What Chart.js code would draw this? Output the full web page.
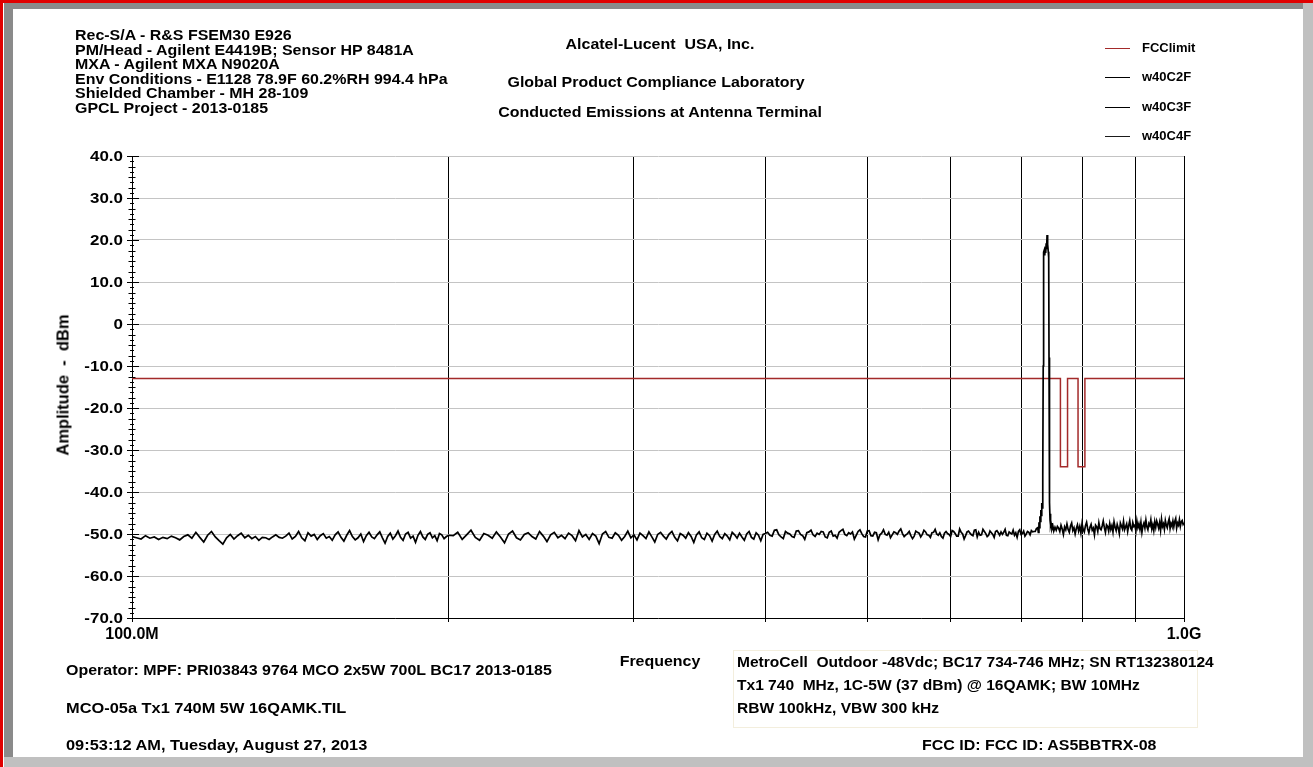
<!DOCTYPE html>
<html>
<head>
<meta charset="utf-8">
<script src="https://cdn.jsdelivr.net/npm/chart.js@4.4.1/dist/chart.umd.min.js"></script>
<style>
  body { margin: 0; background: #fff; }
  #page { position: relative; width: 1313px; height: 767px; overflow: hidden; background: #fff;
          font-family: 'Liberation Sans', Arial, sans-serif; font-weight: bold; color: #000; }
  .bar { position: absolute; }
  .txt { position: absolute; white-space: pre; font-size: 14px; line-height: 14px;
         transform: scaleX(1.14); transform-origin: left top; }
  .mid { width: 400px; text-align: center; transform-origin: center top; }
  #chart { position: absolute; left: 0; top: 0; }
  #legend { position: absolute; left: 1105px; top: 40px; }
  .lg { position: relative; height: 29.3px; }
  .lg span.ln { position: absolute; left: 0; top: 8px; width: 25px; height: 0; border-top: 1.5px solid #000; }
  .lg span.lb { position: absolute; left: 37px; top: 1px; font-size: 13px; line-height: 14px; white-space: pre; }
  #infoBox { position: absolute; left: 733px; top: 650px; width: 463px; height: 76px; border: 1px solid #f3eedd; }
</style>
</head>
<body>
<div id="page">
  <div class="bar" style="left:0;top:0;width:1313px;height:3px;background:#e00000"></div>
  <div class="bar" style="left:0;top:0;width:3px;height:767px;background:#e00000"></div>
  <div class="bar" style="left:4px;top:3px;width:1299px;height:6px;background:#8a8a8a"></div>
  <div class="bar" style="left:4px;top:3px;width:9px;height:754px;background:#8a8a8a"></div>
  <div class="bar" style="left:1303px;top:3px;width:10px;height:764px;background:#c0c0c0"></div>
  <div class="bar" style="left:4px;top:757px;width:1309px;height:10px;background:#c0c0c0"></div>

  <canvas id="chart" width="1313" height="767"></canvas>

  <div class="txt" style="left:75px;top:28px;line-height:14.5px">Rec-S/A - R&amp;S FSEM30 E926
PM/Head - Agilent E4419B; Sensor HP 8481A
MXA - Agilent MXA N9020A
Env Conditions - E1128 78.9F 60.2%RH 994.4 hPa
Shielded Chamber - MH 28-109
GPCL Project - 2013-0185</div>

  <div class="txt mid" style="left:460px;top:37px">Alcatel-Lucent  USA, Inc.</div>
  <div class="txt mid" style="left:456px;top:75px">Global Product Compliance Laboratory</div>
  <div class="txt mid" style="left:460px;top:105px">Conducted Emissions at Antenna Terminal</div>

  <div id="legend"></div>

  <div class="txt" style="left:63px;top:385px;font-size:16.5px;line-height:17px;transform:translate(-50%,-50%) rotate(-90deg);transform-origin:center">Amplitude  -  dBm</div>

  <div class="txt mid" style="left:460px;top:654px">Frequency</div>

  <div class="txt" style="left:66px;top:663px">Operator: MPF: PRI03843 9764 MCO 2x5W 700L BC17 2013-0185</div>
  <div class="txt" style="left:66px;top:701px;transform:scaleX(1.17)">MCO-05a Tx1 740M 5W 16QAMK.TIL</div>
  <div class="txt" style="left:66px;top:738px;transform:scaleX(1.17)">09:53:12 AM, Tuesday, August 27, 2013</div>

  <div id="infoBox"></div>
  <div class="txt" style="left:737px;top:655px;transform:scaleX(1.11)">MetroCell  Outdoor -48Vdc; BC17 734-746 MHz; SN RT132380124</div>
  <div class="txt" style="left:737px;top:678px;transform:scaleX(1.11)">Tx1 740  MHz, 1C-5W (37 dBm) @ 16QAMK; BW 10MHz</div>
  <div class="txt" style="left:737px;top:701px;transform:scaleX(1.11)">RBW 100kHz, VBW 300 kHz</div>
  <div class="txt" style="left:922px;top:738px">FCC ID: FCC ID: AS5BBTRX-08</div>
</div>

<script>
// axis ticks
const xTicks = [100, 200, 300, 400, 500, 600, 700, 800, 900, 1000];
const xTickLabels = ['100.0M', '', '', '', '', '', '', '', '', '1.0G'];
const yTicks = [40, 30, 20, 10, 0, -10, -20, -30, -40, -50, -60, -70];
const yTickLabels = ['40.0', '30.0', '20.0', '10.0', '0', '-10.0', '-20.0', '-30.0', '-40.0', '-50.0', '-60.0', '-70.0'];
const yMinorStep = 1.25;

// FCC limit (MHz, dBm)
const limitFreq = [100, 763, 763, 775, 775, 793, 793, 805, 805, 1000];
const limitAmp = [-13, -13, -34, -34, -13, -13, -34, -34, -13, -13];

// measured sweep w40C2F (MHz, dBm)
const sweepFreq = [
    100, 101, 102, 103, 104, 105, 106, 107, 108, 109, 110, 111, 112, 113, 114, 115, 116, 117, 118, 119,
    120, 121, 122, 123, 124, 125, 126, 127, 128, 129, 130, 131, 132, 133, 134, 135, 136, 137, 138, 139,
    140, 141, 142, 143, 144, 145, 146, 147, 148, 149, 150, 151, 152, 153, 154, 155, 156, 157, 158, 159,
    160, 161, 162, 163, 164, 165, 166, 167, 168, 169, 170, 171, 172, 173, 174, 175, 176, 177, 178, 179,
    180, 181, 182, 183, 184, 185, 186, 187, 188, 189, 190, 191, 192, 193, 194, 195, 196, 197, 198, 199, 200,
    202, 204, 206, 208, 210, 212, 214, 216, 218, 220, 222, 224, 226, 228, 230, 232, 234, 236, 238, 240,
    242, 244, 246, 248, 250, 252, 254, 256, 258, 260, 262, 264, 266, 268, 270, 272, 274, 276, 278, 280,
    282, 284, 286, 288, 290, 292, 294, 296, 298, 300, 302, 304, 306, 308, 310, 312, 314, 316, 318, 320,
    322, 324, 326, 328, 330, 332, 334, 336, 338, 340, 342, 344, 346, 348, 350, 352, 354, 356, 358, 360,
    362, 364, 366, 368, 370, 372, 374, 376, 378, 380, 382, 384, 386, 388, 390, 392, 394, 396, 398, 400,
    402, 404, 406, 408, 410, 412, 414, 416, 418, 420, 422, 424, 426, 428, 430, 432, 434, 436, 438, 440,
    442, 444, 446, 448, 450, 452, 454, 456, 458, 460, 462, 464, 466, 468, 470, 472, 474, 476, 478, 480,
    482, 484, 486, 488, 490, 492, 494, 496, 498, 500, 502, 504, 506, 508, 510, 512, 514, 516, 518, 520,
    522, 524, 526, 528, 530, 532, 534, 536, 538, 540, 542, 544, 546, 548, 550, 552, 554, 556, 558, 560,
    562, 564, 566, 568, 570, 572, 574, 576, 578, 580, 582, 584, 586, 588, 590, 592, 594, 596, 598, 600,
    602, 604, 606, 608, 610, 612, 614, 616, 618, 620, 622, 624, 626, 628, 630, 632, 634, 636, 638, 640,
    642, 644, 646, 648, 650, 652, 654, 656, 658, 660, 662, 664, 666, 668, 670, 672, 674, 676, 678, 680,
    682, 684, 686, 688, 690, 692, 694, 696, 698, 700, 702, 704, 706, 708, 710, 712, 714, 716, 718, 720,
    722, 724, 726, 727, 728, 728.7, 729.5, 730.2, 731, 731.7, 732.5, 733.2, 733.8, 734.4, 734.8, 735.2, 735.7, 736.5, 737.3, 738,
    738.8, 739.6, 740.3, 741, 741.6, 742.3, 743, 743.7, 744.2, 744.7, 745.3, 745.9, 746.5, 747, 747.5, 749, 750.5, 752, 754, 756, 758,
    760, 762, 764, 766, 768, 770, 772, 774, 776, 778, 780, 782, 784, 786, 788, 790, 792, 794, 796, 798,
    800, 802, 804, 806, 808, 810, 812, 814, 816, 818, 820, 822, 824, 826, 828, 830, 832, 834, 836, 838,
    840, 842, 844, 846, 848, 850, 852, 854, 856, 858, 860, 862, 864, 866, 868, 870, 872, 874, 876, 878,
    880, 882, 884, 886, 888, 890, 892, 894, 896, 898, 900, 902, 904, 906, 908, 910, 912, 914, 916, 918,
    920, 922, 924, 926, 928, 930, 932, 934, 936, 938, 940, 942, 944, 946, 948, 950, 952, 954, 956, 958,
    960, 962, 964, 966, 968, 970, 972, 974, 976, 978, 980, 982, 984, 986, 988, 990, 992, 994, 996, 998, 1000
];
const sweepAmp = [
    -50.6, -50.9, -51.2, -50.4, -51.0, -50.7, -51.3, -50.8, -51.1, -50.5, -50.9, -51.4, -50.6, -50.2, -51.0, -49.6, -50.8, -51.9, -50.3, -49.4,
    -50.7, -51.6, -52.4, -50.9, -50.1, -51.2, -50.4, -49.8, -50.9, -50.3, -51.1, -50.6, -51.5, -50.8, -50.9, -51.3, -50.7, -50.2, -50.8, -51.0,
    -50.5, -49.8, -51.2, -50.6, -49.4, -50.9, -51.6, -49.7, -50.5, -50.1, -51.3, -50.4, -49.9, -51.0, -50.6, -51.5, -50.2, -49.5, -50.8, -51.7,
    -50.3, -49.2, -50.6, -51.4, -50.9, -50.0, -51.8, -50.4, -49.6, -50.7, -51.1, -50.2, -49.5, -50.9, -52.2, -50.6, -49.8, -51.2, -50.4, -49.3,
    -50.8, -51.5, -50.0, -49.6, -51.0, -50.5, -52.0, -50.3, -49.4, -50.7, -51.3, -50.1, -49.7, -50.9, -50.4, -51.6, -49.9, -50.2, -51.1, -50.6, -50.3,
    -50.4, -49.6, -51.3, -50.2, -49.1, -50.8, -51.5, -49.9, -50.3, -51.0, -49.5, -50.7, -52.1, -50.0, -49.3, -50.9, -51.4, -50.1, -49.7, -50.6,
    -51.2, -49.4, -50.5, -51.8, -50.2, -49.6, -50.9, -50.3, -51.1, -49.8, -50.4, -51.6, -49.2, -50.7, -50.1, -51.3, -49.9, -50.5, -52.3, -50.0,
    -49.4, -50.8, -51.0, -49.7, -50.3, -51.5, -50.6, -49.3, -50.9, -50.2, -51.4, -49.8, -50.4, -51.1, -49.5, -50.7, -51.9, -50.1, -49.6, -50.5,
    -51.2, -50.0, -49.4, -50.8, -51.6, -49.9, -50.3, -51.0, -49.7, -50.6, -52.0, -50.2, -49.5, -50.9, -51.3, -49.8, -50.4, -51.7, -50.1, -49.3,
    -50.6, -51.1, -49.9, -50.5, -51.4, -49.6, -50.2, -51.0, -49.8, -50.7, -51.5, -50.0, -49.4, -50.8, -51.2, -49.7, -50.3, -51.6, -50.1, -49.9,
    -49.6, -50.3, -50.5, -49.1, -49.0, -50.2, -50.7, -51.1, -49.4, -49.8, -50.0, -50.6, -50.8, -49.3, -49.2, -50.1, -50.4, -51.3, -49.7, -49.5,
    -49.1, -50.2, -50.6, -49.8, -50.1, -49.4, -49.5, -50.7, -50.9, -49.6, -49.3, -50.5, -50.3, -51.0, -49.6, -49.2, -48.9, -50.1, -50.4, -49.7,
    -50.0, -49.5, -51.2, -50.3, -49.4, -49.0, -49.9, -50.6, -50.7, -49.3, -49.2, -50.4, -50.5, -49.6, -49.7, -51.4, -50.2, -49.8, -49.0, -50.1,
    -50.3, -49.6, -50.9, -50.2, -49.5, -49.7, -50.1, -49.3, -48.8, -49.9, -50.6, -50.2, -49.9, -49.4, -50.4, -51.1, -50.5, -49.3, -49.6, -49.8,
    -50.7, -50.1, -49.1, -49.5, -50.2, -50.3, -50.8, -49.7, -49.6, -48.9, -50.0, -50.3, -49.7, -50.6, -51.0, -49.8, -49.4, -49.9, -50.1, -50.6,
    -49.2, -49.4, -49.9, -50.5, -50.5, -48.8, -49.6, -50.0, -51.2, -50.4, -49.5, -49.3, -49.8, -50.2, -50.4, -49.1, -49.0, -50.7, -49.6, -50.3,
    -50.2, -48.9, -49.4, -49.9, -50.6, -50.3, -49.3, -49.7, -50.1, -50.8, -49.4, -49.2, -49.7, -50.3, -49.5, -50.1, -49.6, -48.9, -50.3, -50.4,
    -49.5, -49.8, -50.0, -49.1, -50.3, -49.7, -50.8, -49.4, -49.0, -50.1, -49.9, -49.3, -50.5, -50.0, -49.4, -49.6, -50.2, -49.2, -49.5, -49.4,
    -49.4, -48.7, -48.5, -49.6, -47.2, -48.5, -45.8, -47.0, -44.3, -45.6, -42.6, -43.8, -41.0, -36.0, -10.0, 12.0, 17.1, 17.6, 16.3, 18.4,
    16.9, 19.2, 17.8, 21.2, 18.1, 19.0, 17.2, 15.8, -8.0, -36.0, -42.5, -46.8, -45.2, -47.9, -47.4, -48.8, -48.1, -49.3, -48.4, -49.1, -48.2,
    -48.6, -49.4, -47.9, -48.8, -50.1, -48.3, -49.0, -47.6, -48.9, -49.6, -48.1, -47.4, -49.2, -48.5, -50.0, -48.7, -47.8, -49.3, -48.2, -49.8,
    -47.5, -48.9, -49.5, -48.0, -47.2, -48.8, -49.7, -48.4, -47.7, -49.1, -48.6, -50.2, -47.9, -48.3, -49.4, -47.3, -48.7, -49.0, -48.1, -46.9,
    -48.5, -49.6, -47.8, -48.2, -49.3, -47.5, -48.9, -48.0, -49.5, -47.1, -48.4, -49.2, -47.7, -48.6, -49.9, -47.4, -48.1, -48.8, -47.0, -49.0,
    -48.3, -47.6, -49.4, -48.0, -46.8, -48.7, -49.1, -47.3, -48.2, -47.9, -49.3, -46.9, -48.5, -47.6, -48.9, -47.2, -49.6, -48.1, -47.4, -48.6,
    -46.7, -48.3, -49.0, -47.5, -48.0, -46.6, -48.8, -47.8, -49.2, -47.1, -48.4, -46.9, -47.7, -48.6, -47.3, -49.1, -46.5, -48.2, -47.6, -48.9,
    -46.8, -47.9, -48.5, -47.2, -46.4, -48.7, -47.5, -48.1, -46.9, -48.3, -47.0, -46.3, -48.6, -47.4, -47.9, -46.6, -48.2, -47.1, -46.8, -47.7, -47.3
];
// the other two sweeps are not separately visible in the plot
const sweep3Amp = [];
const sweep4Amp = [];

const toPoints = (xs, ys) => ys.map((y, i) => ({ x: xs[i], y: y }));

// amplitude axis: crossed tick marks and stretched labels
const ampAxis = {
    id: 'ampAxis',
    afterDraw(chart) {
        const y = chart.scales.y;
        const x0 = chart.chartArea.left;
        const ctx = chart.ctx;
        ctx.save();
        ctx.strokeStyle = '#000';
        ctx.lineWidth = 1;
        ctx.beginPath();
        for (let v = y.min; v <= y.max + 0.001; v += yMinorStep) {
            const py = Math.round(y.getPixelForValue(v)) + 0.5;
            const r = Math.abs(v % 10);
            const major = r < 0.001 || r > 9.999;
            const half = Math.abs(v % 2.5) < 0.001;
            const left = major ? 5 : (half ? 3.5 : 2);
            const right = major ? 7 : (half ? 3.5 : 2);
            ctx.moveTo(x0 - left, py);
            ctx.lineTo(x0 + right, py);
        }
        ctx.stroke();
        ctx.fillStyle = '#000';
        ctx.font = "bold 15px 'Liberation Sans', Arial";
        ctx.textAlign = 'right';
        ctx.textBaseline = 'middle';
        yTicks.forEach((v, i) => {
            ctx.save();
            ctx.translate(x0 - 9, y.getPixelForValue(v) + 1);
            ctx.scale(1.13, 1);
            ctx.fillText(yTickLabels[i], 0, 0);
            ctx.restore();
        });
        ctx.restore();
    }
};

const chart = new Chart(document.getElementById('chart'), {
    type: 'line',
    data: {
        datasets: [
            {
                label: 'FCClimit',
                data: toPoints(limitFreq, limitAmp),
                borderColor: '#a32a2a',
                borderWidth: 1.5,
                pointRadius: 0,
                order: 2
            },
            {
                label: 'w40C2F',
                data: toPoints(sweepFreq, sweepAmp),
                borderColor: '#000000',
                borderWidth: 1.7,
                pointRadius: 0,
                order: 1
            },
            {
                label: 'w40C3F',
                data: toPoints(sweepFreq, sweep3Amp),
                borderColor: '#000000',
                borderWidth: 1.5,
                pointRadius: 0,
                order: 1
            },
            {
                label: 'w40C4F',
                data: toPoints(sweepFreq, sweep4Amp),
                borderColor: '#1a1a1a',
                borderWidth: 1.5,
                pointRadius: 0,
                order: 1
            }
        ]
    },
    options: {
        responsive: false,
        animation: false,
        layout: { padding: { left: 0, top: 156, right: 129, bottom: 100 } },
        plugins: {
            legend: { display: false },
            tooltip: { enabled: false }
        },
        scales: {
            x: {
                type: 'logarithmic',
                min: 100,
                max: 1000,
                afterBuildTicks: (scale) => { scale.ticks = xTicks.map(v => ({ value: v })); },
                afterFit: (scale) => { scale.height = 49; },
                grid: { color: '#000', lineWidth: 1, tickLength: 4 },
                border: { color: '#000', width: 1 },
                ticks: {
                    autoSkip: false,
                    maxRotation: 0,
                    padding: 3,
                    color: '#000',
                    font: { family: "'Liberation Sans', Arial", size: 16, weight: 'bold' },
                    callback: (v, i) => xTickLabels[i]
                }
            },
            y: {
                min: -70,
                max: 40,
                afterBuildTicks: (scale) => { scale.ticks = yTicks.map(v => ({ value: v })); },
                afterFit: (scale) => { scale.width = 132; },
                grid: { color: '#c4c4c4', lineWidth: 1, drawTicks: false },
                border: { color: '#000', width: 1 },
                ticks: { display: false }
            }
        }
    },
    plugins: [ampAxis]
});

// legend built from the datasets
const legend = document.getElementById('legend');
chart.data.datasets.forEach(ds => {
    const row = document.createElement('div');
    row.className = 'lg';
    row.innerHTML = '<span class="ln" style="border-color:' + ds.borderColor + '"></span><span class="lb">' + ds.label + '</span>';
    legend.appendChild(row);
});
</script>
</body>
</html>
